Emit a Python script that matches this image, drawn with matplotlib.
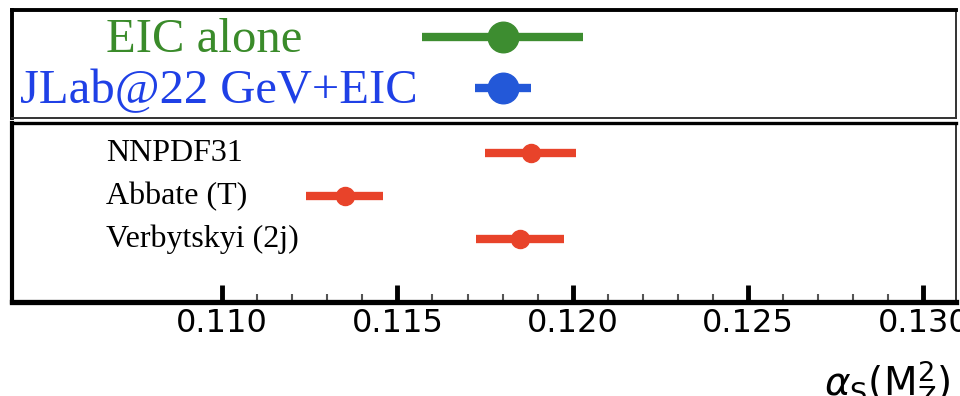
import matplotlib
matplotlib.use("Agg")
import matplotlib.pyplot as plt
from matplotlib.ticker import FixedLocator

# projections (top panel)
proj_labels = ['EIC alone', 'JLab@22 GeV+EIC']
proj_vals = [0.1180, 0.1180]
proj_errs = [0.0023, 0.0008]
proj_colors = ['#3d8d30', '#2358d8']
proj_text_colors = ['#3a8b2a', '#1f40e6']

# existing extractions (bottom panel)
ext_labels = ['NNPDF31', 'Abbate (T)', 'Verbytskyi (2j)']
ext_vals = [0.1188, 0.1135, 0.1185]
ext_errs = [0.0013, 0.0011, 0.00125]
ext_color = '#e8432a'

xticks = [0.110, 0.115, 0.120, 0.125, 0.130]
xticklabels = ['0.110', '0.115', '0.120', '0.125', '0.130']
minor_ticks = [0.110 + 0.001 * k for k in range(21)]

fig = plt.figure(figsize=(9.6, 3.96), dpi=100)
ax1 = fig.add_axes([0.0125, 0.702, 0.9833, 0.273])
ax2 = fig.add_axes([0.0125, 0.237, 0.9833, 0.452])

xmin, xmax = 0.10401, 0.13093

# top panel
for i in range(len(proj_labels)):
    ax1.errorbar(proj_vals[i], i, xerr=proj_errs[i], fmt='o', color=proj_colors[i],
                 ms=22, elinewidth=6, capsize=0)
    ax1.text(0.0996 if i == 0 else 0.0085, i + 0.3, proj_labels[i],
             transform=ax1.get_yaxis_transform(), color=proj_text_colors[i],
             fontsize=35, family='Liberation Serif', va='baseline', ha='left')
ax1.set_xlim(xmin, xmax)
ax1.set_ylim(1.59, -0.53)
ax1.set_xticks([])
ax1.set_yticks([])
ax1.spines['left'].set_linewidth(2.8)
ax1.spines['top'].set_linewidth(2.8)
ax1.spines['right'].set_linewidth(1.4)
ax1.spines['bottom'].set_linewidth(1.4)
ax1.spines['right'].set_color('#333333')
ax1.spines['bottom'].set_color('#333333')

# bottom panel
for i in range(len(ext_labels)):
    ax2.errorbar(ext_vals[i], i, xerr=ext_errs[i], fmt='o', color=ext_color,
                 ms=13, elinewidth=6, capsize=0)
    ax2.text(0.0996, i + 0.18, ext_labels[i], transform=ax2.get_yaxis_transform(),
             fontsize=23, family='Liberation Serif', va='baseline', ha='left')
ax2.set_xlim(xmin, xmax)
ax2.set_ylim(3.465, -0.70)
ax2.set_yticks([])
ax2.set_xticks(xticks)
ax2.set_xticklabels(xticklabels, fontsize=23, family='DejaVu Sans')
ax2.xaxis.set_minor_locator(FixedLocator(minor_ticks))
ax2.tick_params(axis='x', which='major', direction='in', length=12, width=3.5, pad=4)
ax2.tick_params(axis='x', which='minor', direction='in', length=6, width=1.5, color='#555555')
ax2.spines['left'].set_linewidth(3.0)
ax2.spines['top'].set_linewidth(2.4)
ax2.spines['bottom'].set_linewidth(3.8)
ax2.spines['right'].set_linewidth(1.4)
ax2.spines['right'].set_color('#333333')

fig.text(0.99, 0.095, r'$\alpha_\mathrm{S}(\mathrm{M}_\mathrm{Z}^2)$', fontsize=28,
         ha='right', va='top', family='DejaVu Sans')

fig.savefig('out.png', dpi=100)
